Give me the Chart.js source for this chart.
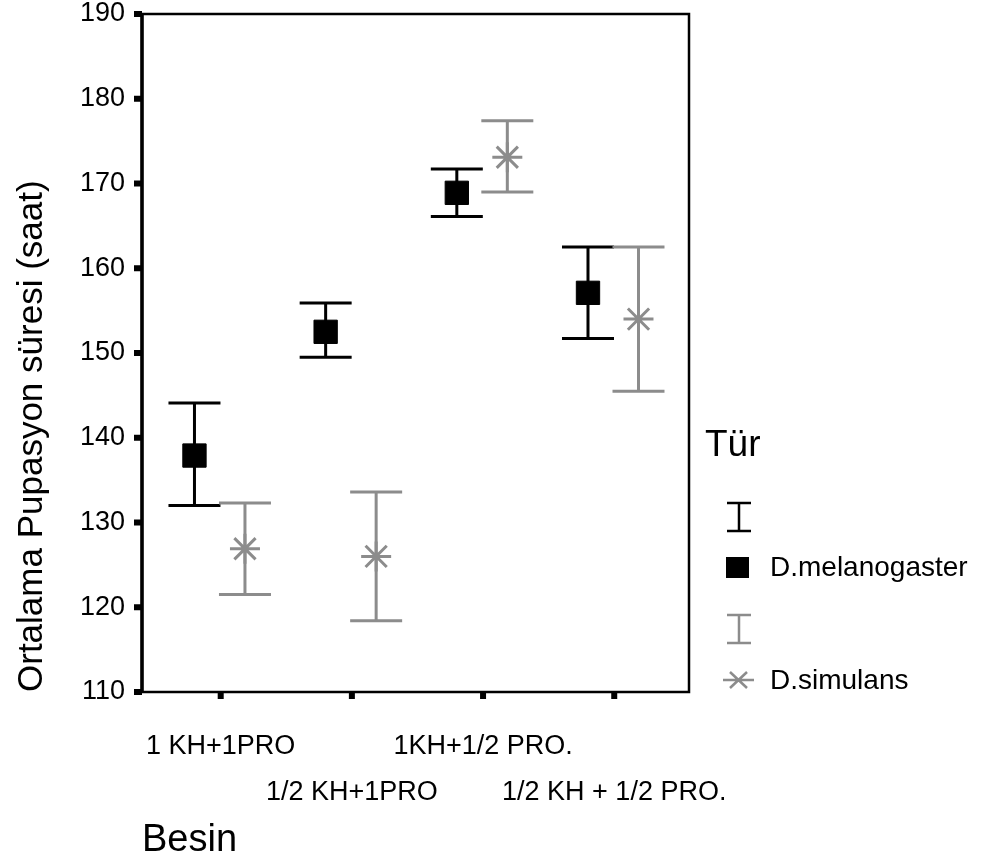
<!DOCTYPE html>
<html>
<head>
<meta charset="utf-8">
<script src="https://cdn.jsdelivr.net/npm/chart.js@4"></script>
<style>
  html, body { margin: 0; padding: 0; background: #fff; }
  canvas { display: block; }
</style>
</head>
<body>
<canvas id="chart" width="986" height="863"></canvas>
<script>
// food groups (x) and the two species (mean, lower / upper bar ends)
const categories = ['1 KH+1PRO', '1/2 KH+1PRO', '1KH+1/2 PRO.', '1/2 KH + 1/2 PRO.'];
const melMean = [137.9, 152.5, 168.9, 157.1];
const melLow  = [132.0, 149.5, 166.1, 151.7];
const melHigh = [144.1, 155.9, 171.7, 162.5];
const simMean = [126.9, 126.0, 173.1, 154.0];
const simLow  = [121.5, 118.4, 169.0, 145.5];
const simHigh = [132.3, 133.6, 177.4, 162.5];
const yTicks = [110, 120, 130, 140, 150, 160, 170, 180, 190];

const FONT = '"Liberation Sans", Arial, sans-serif';
const BLACK = '#000000';
const GREY = '#8c8c8c';
const MEL_SHIFT = -0.2;
const SIM_SHIFT = 0.185;

const toPoints = (mean, low, high, shift) =>
  mean.map((m, i) => ({ x: i + shift, y: m, yMin: low[i], yMax: high[i] }));

// error bars under the markers
const errorBars = {
  id: 'errorBars',
  beforeDatasetsDraw(chart) {
    const { ctx, scales: { x, y } } = chart;
    ctx.save();
    ctx.lineWidth = 3;
    chart.data.datasets.forEach(ds => {
      ctx.strokeStyle = ds.barColor;
      ds.data.forEach(p => {
        const px = x.getPixelForValue(p.x);
        const top = y.getPixelForValue(p.yMax);
        const bot = y.getPixelForValue(p.yMin);
        ctx.beginPath();
        ctx.moveTo(px, top); ctx.lineTo(px, bot);
        ctx.moveTo(px - 26, top); ctx.lineTo(px + 26, top);
        ctx.moveTo(px - 26, bot); ctx.lineTo(px + 26, bot);
        ctx.stroke();
      });
    });
    ctx.restore();
  }
};

// box frame and the little square tick marks
const frame = {
  id: 'frame',
  afterDatasetsDraw(chart) {
    const { ctx, chartArea: a, scales: { x, y } } = chart;
    ctx.save();
    ctx.strokeStyle = BLACK;
    ctx.lineWidth = 2.5;
    ctx.strokeRect(a.left, a.top, a.right - a.left, a.bottom - a.top);
    ctx.lineWidth = 3.5;
    ctx.beginPath();
    ctx.moveTo(a.left, a.top); ctx.lineTo(a.left, a.bottom);
    ctx.stroke();
    ctx.fillStyle = BLACK;
    yTicks.forEach(v => {
      const py = y.getPixelForValue(v);
      ctx.fillRect(a.left - 8, py - 3, 8, 6);
    });
    categories.forEach((c, i) => {
      const px = x.getPixelForValue(i);
      ctx.fillRect(px - 3, a.bottom, 6, 7);
    });
    ctx.restore();
  }
};

// legend on the right
const legendBox = {
  id: 'legendBox',
  afterDraw(chart) {
    const { ctx } = chart;
    const bar = (cx, top, bot, color) => {
      ctx.strokeStyle = color;
      ctx.lineWidth = 2.5;
      ctx.beginPath();
      ctx.moveTo(cx, top); ctx.lineTo(cx, bot);
      ctx.moveTo(cx - 12, top); ctx.lineTo(cx + 12, top);
      ctx.moveTo(cx - 12, bot); ctx.lineTo(cx + 12, bot);
      ctx.stroke();
    };
    ctx.save();
    ctx.fillStyle = BLACK;
    ctx.textBaseline = 'middle';
    ctx.font = '37px ' + FONT;
    ctx.fillText('Tür', 705, 446);
    bar(739, 503, 531, BLACK);
    ctx.fillRect(726, 557, 23, 21);
    ctx.font = '28px ' + FONT;
    ctx.fillText('D.melanogaster', 770, 568);
    bar(739, 615, 643, GREY);
    ctx.strokeStyle = GREY;
    ctx.lineWidth = 2.5;
    ctx.beginPath();
    ctx.moveTo(723, 680); ctx.lineTo(754, 680);
    ctx.moveTo(730, 672); ctx.lineTo(747, 688);
    ctx.moveTo(730, 688); ctx.lineTo(747, 672);
    ctx.stroke();
    ctx.fillStyle = BLACK;
    ctx.fillText('D.simulans', 770, 681);
    ctx.restore();
  }
};

new Chart(document.getElementById('chart'), {
  type: 'scatter',
  data: {
    datasets: [
      {
        label: 'D.melanogaster',
        data: toPoints(melMean, melLow, melHigh, MEL_SHIFT),
        barColor: BLACK,
        pointStyle: 'rect',
        pointRadius: 16.5,
        backgroundColor: BLACK,
        borderColor: BLACK,
        borderWidth: 1
      },
      {
        label: 'D.simulans',
        data: toPoints(simMean, simLow, simHigh, SIM_SHIFT),
        barColor: GREY,
        pointStyle: 'star',
        pointRadius: 15,
        backgroundColor: GREY,
        borderColor: GREY,
        borderWidth: 3
      }
    ]
  },
  options: {
    responsive: false,
    animation: false,
    events: [],
    layout: { autoPadding: false, padding: { top: 14, right: 297, left: 0, bottom: 0 } },
    plugins: { legend: { display: false }, tooltip: { enabled: false } },
    scales: {
      x: {
        type: 'linear',
        min: -0.6,
        max: 3.57,
        afterBuildTicks: s => { s.ticks = categories.map((c, i) => ({ value: i })); },
        afterFit: s => {
          s.height = 171;
          s.paddingLeft = 0; s.paddingRight = 0;
        },
        grid: { display: false, drawTicks: false },
        border: { display: false },
        ticks: {
          autoSkip: false,
          maxRotation: 0,
          padding: 32,
          color: BLACK,
          font: { family: FONT, size: 27, lineHeight: 1.7 },
          callback: v => {
            const i = Math.round(v);
            return i % 2 ? ['', categories[i]] : categories[i];
          }
        },
        title: {
          display: true,
          text: 'Besin',
          align: 'start',
          color: BLACK,
          padding: 0,
          font: { family: FONT, size: 38 }
        }
      },
      y: {
        min: 110,
        max: 190,
        afterFit: s => {
          s.width = 142;
          s.paddingTop = 0; s.paddingBottom = 0;
        },
        grid: { display: false, drawTicks: false },
        border: { display: false },
        ticks: {
          stepSize: 10,
          padding: 17,
          color: BLACK,
          font: { family: FONT, size: 27, lineHeight: 1 }
        },
        title: {
          display: true,
          text: 'Ortalama Pupasyon süresi (saat)',
          align: 'start',
          color: BLACK,
          padding: { top: 11, bottom: 0 },
          font: { family: FONT, size: 35 }
        }
      }
    }
  },
  plugins: [errorBars, frame, legendBox]
});
</script>
</body>
</html>
